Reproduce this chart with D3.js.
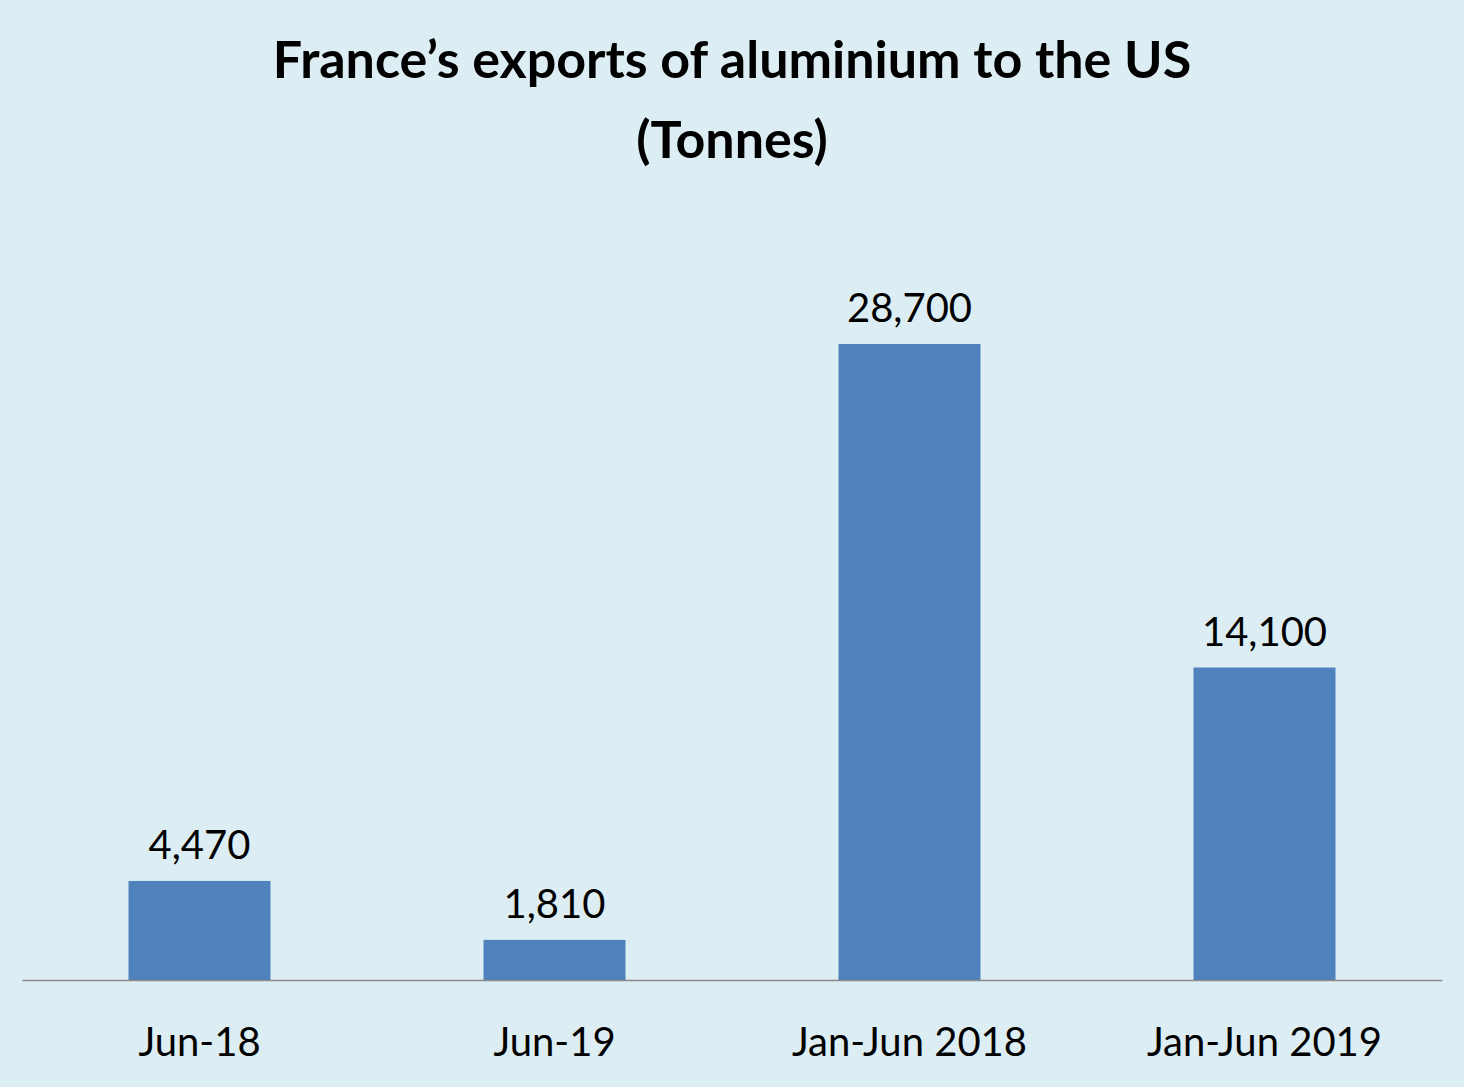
<!DOCTYPE html>
<html><head><meta charset="utf-8">
<script src="https://cdn.jsdelivr.net/npm/d3@7"></script>
<style>body{margin:0;background:#dcedf3;}svg{display:block;}</style>
</head><body>
<script>
const categories = ["Jun-18","Jun-19","Jan-Jun 2018","Jan-Jun 2019"];
const values = [4470,1810,28700,14100];
const labels = ["4,470","1,810","28,700","14,100"];
const titleLines = ["France\u2019s exports of aluminium to the US","(Tonnes)"];

const W=1464,H=1087;
const svg=d3.select("body").append("svg").attr("width",W).attr("height",H);
svg.append("rect").attr("width",W).attr("height",H).attr("fill","#dcedf3");
const font="Lato, 'Open Sans', sans-serif";
const x=d3.scaleBand().domain(categories).range([22,1442]).paddingInner(0.6).paddingOuter(0.3);
const y=d3.scaleLinear().domain([0,28700]).range([980,344]);

svg.selectAll("text.t").data(titleLines).join("text").attr("class","t")
 .attr("x",732).attr("y",(d,i)=>78+i*80).attr("text-anchor","middle")
 .attr("font-family",font).attr("font-weight","bold").attr("font-size",52).attr("fill","#000").text(d=>d);

svg.selectAll("rect.b").data(values).join("rect").attr("class","b")
 .attr("x",(d,i)=>x(categories[i])).attr("width",x.bandwidth())
 .attr("y",d=>y(d)).attr("height",d=>y(0)-y(d)).attr("fill","#4f81bd");

svg.selectAll("text.v").data(values).join("text").attr("class","v")
 .attr("x",(d,i)=>x(categories[i])+x.bandwidth()/2).attr("y",d=>y(d)-22)
 .attr("text-anchor","middle").attr("font-family",font).attr("font-size",40).attr("fill","#000")
 .text((d,i)=>labels[i]);

const ax=svg.append("g").attr("transform","translate(0,980)").call(d3.axisBottom(x).tickSize(0).tickPadding(48));
ax.select(".domain").attr("stroke","#8c8c8c").attr("stroke-width",1.5);
ax.selectAll("text").attr("font-family",font).attr("font-size",40).attr("fill","#000");
</script>
</body></html>
